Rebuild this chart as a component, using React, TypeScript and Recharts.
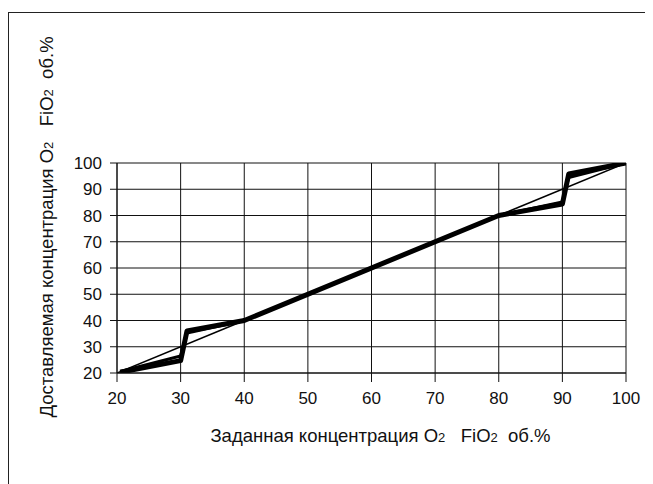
import React from "react";
import { LineChart, Line, XAxis, YAxis, CartesianGrid, Label } from "recharts";

// Tick values (set FiO2 on X, delivered FiO2 on Y)
const xTicks = [20, 30, 40, 50, 60, 70, 80, 90, 100];
const yTicks = [20, 30, 40, 50, 60, 70, 80, 90, 100];

// Ideal line (delivered = set)
const idealX = [20, 100];
const idealY = [20, 100];

// Measured curve A (thick)
const curveAX = [20.5, 30, 31, 40, 80, 90, 91, 100];
const curveAY = [20.3, 24.7, 36, 40, 80, 84.4, 95.8, 100];

// Measured curve B (slightly thinner)
const curveBX = [20.5, 30, 31, 40, 80, 90, 91, 100];
const curveBY = [20.6, 26.5, 35.2, 40, 80, 85.2, 94.5, 100];

const xTitle = ["Заданная концентрация O", "2", "   FiO", "2", "  об.%"];
const yTitle = ["Доставляемая концентрация O", "2", "   FiO", "2", "  об.%"];

const zip = (xs: number[], ys: number[]) => xs.map((x, i) => ({ x, y: ys[i] }));
const idealData = zip(idealX, idealY);
const dataA = zip(curveAX, curveAY);
const dataB = zip(curveBX, curveBY);

const FONT = "'Liberation Sans', Arial, Helvetica, sans-serif";
const INK = "#111";
const TITLE_SIZE = 18.5;

const renderTitle = (parts: string[]) =>
  parts.map((p, i) =>
    i % 2 === 1 ? (
      <tspan key={i} fontSize={13}>
        {p}
      </tspan>
    ) : (
      <tspan key={i}>{p}</tspan>
    )
  );

const XTitle = (props: any) => {
  const vb = props.viewBox || {};
  const cx = vb.x + vb.width / 2 + 9;
  const cy = vb.y + 69;
  return (
    <text
      x={cx}
      y={cy}
      textAnchor="middle"
      fontFamily={FONT}
      fontSize={TITLE_SIZE}
      fill={INK}
      style={{ whiteSpace: "pre" }}
    >
      {renderTitle(xTitle)}
    </text>
  );
};

const YTitle = (props: any) => {
  const vb = props.viewBox || {};
  const bx = vb.x - 4;
  const cy = vb.y + vb.height / 2 - 41;
  return (
    <text
      x={bx}
      y={cy}
      textAnchor="middle"
      fontFamily={FONT}
      fontSize={TITLE_SIZE}
      fill={INK}
      transform={`rotate(-90, ${bx}, ${cy})`}
      style={{ whiteSpace: "pre" }}
    >
      {renderTitle(yTitle)}
    </text>
  );
};

export default function App() {
  return (
    <div style={{ position: "relative", width: 645, height: 476 }}>
      <div style={{ position: "absolute", left: 0, top: 0 }}>
        <LineChart
          width={645}
          height={476}
          margin={{ top: 155, right: 27, bottom: 71, left: 49 }}
        >
          <CartesianGrid stroke={INK} strokeWidth={1} />
          <XAxis
            dataKey="x"
            type="number"
            domain={[20, 100]}
            ticks={xTicks}
            allowDataOverflow
            height={40}
            tickSize={9}
            tickMargin={10}
            axisLine={{ stroke: INK }}
            tickLine={{ stroke: INK }}
            tick={{ fill: INK, fontSize: 17, fontFamily: FONT }}
            interval={0}
          >
            <Label content={<XTitle />} />
          </XAxis>
          <YAxis
            dataKey="y"
            type="number"
            domain={[20, 100]}
            ticks={yTicks}
            allowDataOverflow
            width={60}
            tickSize={7}
            tickMargin={8}
            axisLine={{ stroke: INK }}
            tickLine={{ stroke: INK }}
            tick={{ fill: INK, fontSize: 17, fontFamily: FONT }}
            interval={0}
          >
            <Label content={<YTitle />} />
          </YAxis>
          <Line
            data={idealData}
            dataKey="y"
            type="linear"
            stroke="#000"
            strokeWidth={1.6}
            dot={false}
            isAnimationActive={false}
          />
          <Line
            data={dataB}
            dataKey="y"
            type="linear"
            stroke="#000"
            strokeWidth={3}
            dot={false}
            isAnimationActive={false}
          />
          <Line
            data={dataA}
            dataKey="y"
            type="linear"
            stroke="#000"
            strokeWidth={5}
            strokeLinejoin="round"
            dot={false}
            isAnimationActive={false}
          />
        </LineChart>
      </div>
      <div
        style={{
          position: "absolute",
          left: 0,
          top: 4,
          right: 0,
          bottom: 0,
          borderLeft: "1px solid #222",
          borderTop: "1px solid #222",
          pointerEvents: "none",
        }}
      />
    </div>
  );
}
